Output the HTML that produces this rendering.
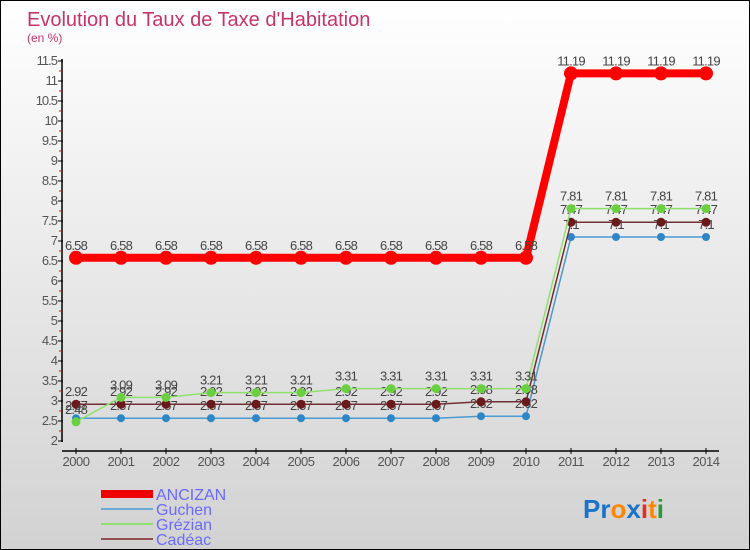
<!DOCTYPE html>
<html><head><meta charset="utf-8"><style>
body{margin:0}
#c{width:748px;height:548px;border:1px solid #000;background:linear-gradient(#fff,#d2d2d2);position:relative;font-family:"Liberation Sans",sans-serif;overflow:hidden}
</style></head><body>
<div id="c">
<svg id="s" width="748" height="548" xmlns="http://www.w3.org/2000/svg" style="position:absolute;left:0;top:0">
<text x="26" y="25" font-size="20" fill="#c8336a">Evolution du Taux de Taxe d'Habitation</text>
<text x="26" y="41" font-size="12" fill="#c8336a">(en %)</text>
<g id="axes"></g><g id="series"></g>
<g>
<rect x="100" y="489" width="52" height="8" fill="#e00"/>
<text x="155" y="499" font-size="16" fill="#6a6aff">ANCIZAN</text>
<rect x="100" y="507" width="52" height="2" fill="#6aaad6"/>
<text x="155" y="514" font-size="16" fill="#6a6aff">Guchen</text>
<rect x="100" y="522" width="52" height="2" fill="#90e070"/>
<text x="155" y="529" font-size="16" fill="#6a6aff">Grézian</text>
<rect x="100" y="537" width="52" height="2" fill="#905050"/>
<text x="155" y="544" font-size="16" fill="#6a6aff">Cadéac</text>
</g>
<text x="582" y="517" font-size="26" font-weight="bold"><tspan fill="#1a73c8">Pr</tspan><tspan fill="#ff8800">o</tspan><tspan fill="#1a73c8">x</tspan><tspan fill="#e03020">i</tspan><tspan fill="#ff8800">t</tspan><tspan fill="#2a9a3a">i</tspan></text>
</svg>
</div>
<script>
const years=[2000,2001,2002,2003,2004,2005,2006,2007,2008,2009,2010,2011,2012,2013,2014];
const anczan=[6.58,6.58,6.58,6.58,6.58,6.58,6.58,6.58,6.58,6.58,6.58,11.19,11.19,11.19,11.19];
const guchen=[2.57,2.57,2.57,2.57,2.57,2.57,2.57,2.57,2.57,2.62,2.62,7.1,7.1,7.1,7.1];
const grezian=[2.48,3.09,3.09,3.21,3.21,3.21,3.31,3.31,3.31,3.31,3.31,7.81,7.81,7.81,7.81];
const cadeac=[2.92,2.92,2.92,2.92,2.92,2.92,2.92,2.92,2.92,2.98,2.98,7.47,7.47,7.47,7.47];
const yTicks=[2,2.5,3,3.5,4,4.5,5,5.5,6,6.5,7,7.5,8,8.5,9,9.5,10,10.5,11,11.5];
const NS="http://www.w3.org/2000/svg";
const X=i=>75+i*45, Y=v=>440-(v-2)*40;
function mk(t,a,p){const e=document.createElementNS(NS,t);for(const k in a)e.setAttribute(k,a[k]);p.appendChild(e);return e;}
const ax=document.getElementById('axes');
const yl=mk('line',{x1:61,y1:58,x2:61,y2:441,stroke:'#000','stroke-width':1.5},ax);


const xl=mk('line',{x1:61,y1:450,x2:718,y2:450,stroke:'#000','stroke-width':1.5},ax);


yTicks.forEach(v=>{
 mk('line',{x1:57,y1:Y(v),x2:62,y2:Y(v),stroke:'#000'},ax);
 if(v<11.5)mk('line',{x1:58,y1:Y(v+0.25),x2:61,y2:Y(v+0.25),stroke:'#e00'},ax);
 const t=mk('text',{x:56,y:Y(v)+4,'font-size':13,fill:'#555','text-anchor':'end','letter-spacing':'-1'},ax);
 t.textContent=String(v);
 
 
});
years.forEach((yr,i)=>{
 mk('line',{x1:X(i),y1:447,x2:X(i),y2:453,stroke:'#000'},ax);
 const t=mk('text',{x:X(i),y:465,'font-size':13,fill:'#555','text-anchor':'middle','letter-spacing':'-0.5'},ax);
 t.textContent=yr;
 
 
});
const sg=document.getElementById('series');
function series(name,vals,col,dot,w,r){
 const g=mk('g',{},sg);
 
 
 mk('polyline',{points:vals.map((v,i)=>X(i)+','+Y(v)).join(' '),fill:'none',stroke:col,'stroke-width':w},g);
 vals.forEach((v,i)=>{
  const c=mk('circle',{cx:X(i),cy:Y(v),r:r,fill:dot},g);
  
  
  const t=mk('text',{x:X(i),y:Y(v)-8,'font-size':13,fill:'#444','text-anchor':'middle','letter-spacing':'-0.8'},g);
  t.textContent=String(v);
  
  
 });
}
series('guchen',guchen,'#4a9ad0','#2f86c6',1.5,4);
series('cadeac',cadeac,'#703030','#6a1a1a',1.5,4.5);
series('grezian',grezian,'#90e070','#6ad040',1.5,4.5);
series('anczan',anczan,'#f00','#f00',8,7);
</script>
</body></html>
